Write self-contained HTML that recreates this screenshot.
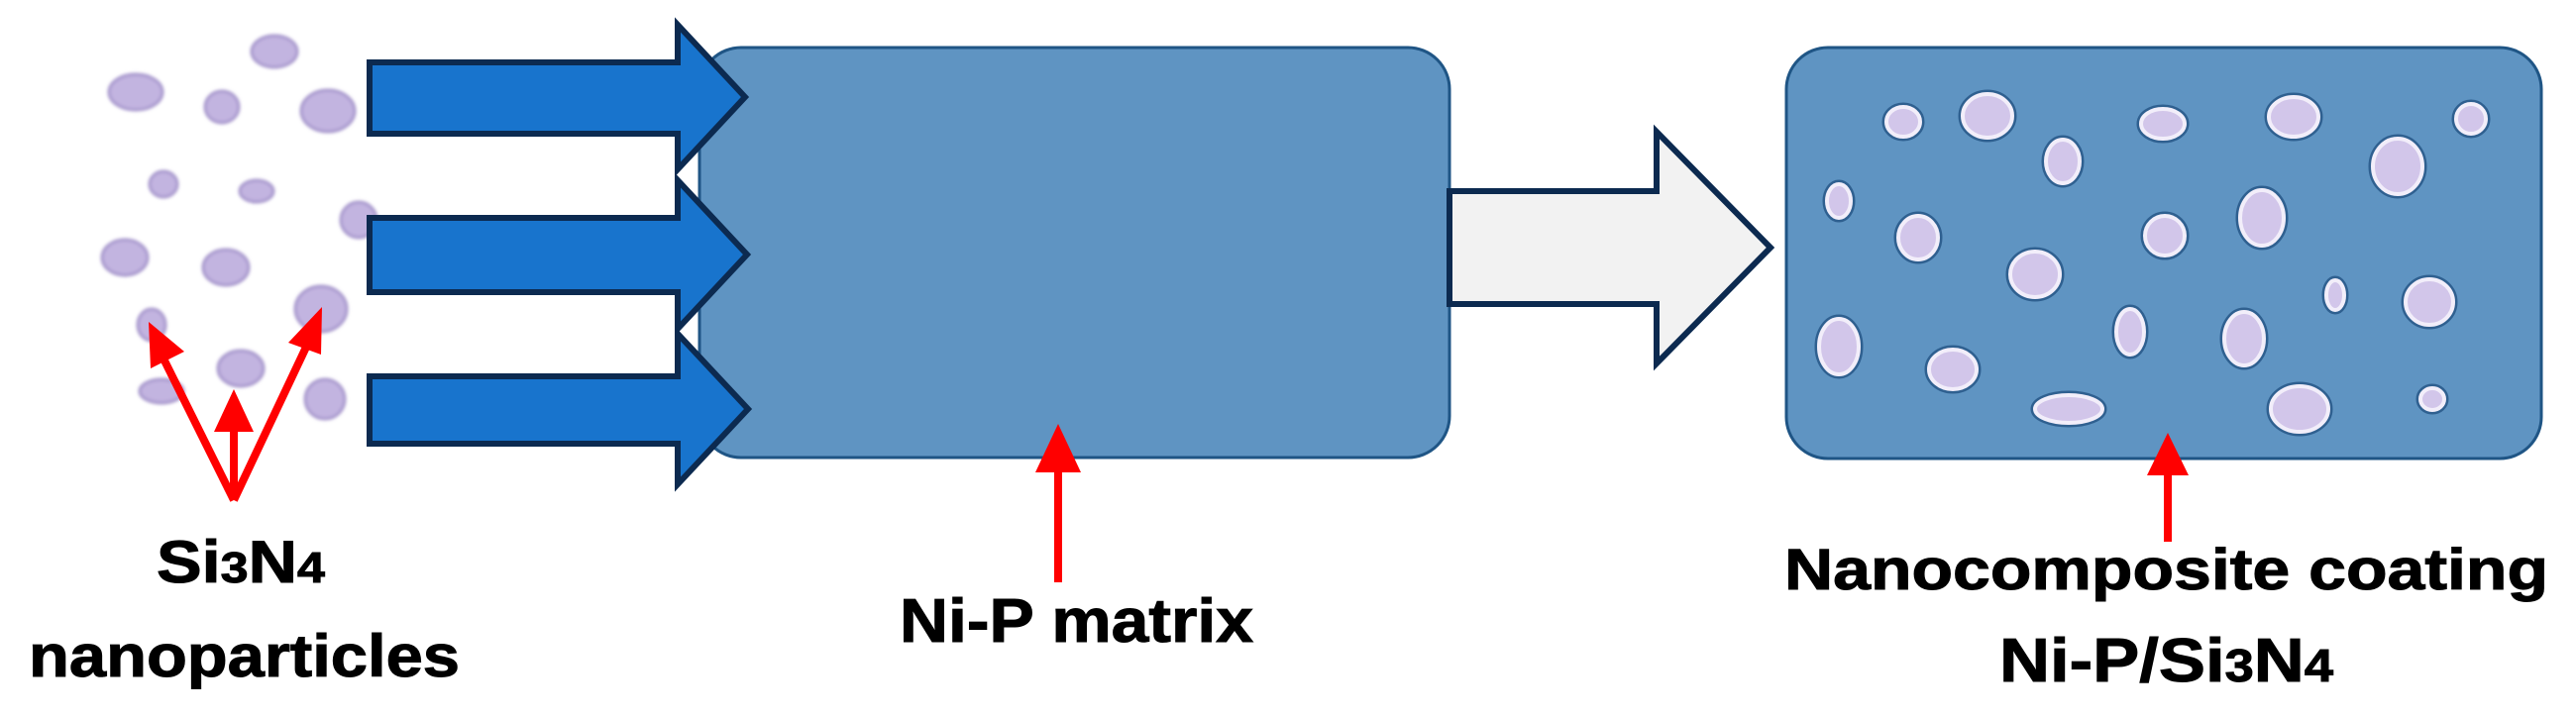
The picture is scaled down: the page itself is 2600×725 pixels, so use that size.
<!DOCTYPE html>
<html><head><meta charset="utf-8"><style>html,body{margin:0;padding:0;background:#fff}svg{display:block}</style></head>
<body>
<svg width="2600" height="725" viewBox="0 0 2600 725" xmlns="http://www.w3.org/2000/svg">
<defs>
<filter id="blur" x="-30%" y="-30%" width="160%" height="160%"><feGaussianBlur stdDeviation="1.6"/></filter>
<g id="inc">
<ellipse cx="1921" cy="123" rx="17" ry="15"/>
<ellipse cx="2006" cy="117" rx="25" ry="22"/>
<ellipse cx="2082" cy="163" rx="17" ry="22"/>
<ellipse cx="2183" cy="125" rx="22" ry="15"/>
<ellipse cx="2315" cy="118" rx="25" ry="20"/>
<ellipse cx="2494" cy="120" rx="15" ry="15"/>
<ellipse cx="2420" cy="168" rx="25" ry="28"/>
<ellipse cx="1856" cy="203" rx="12" ry="17"/>
<ellipse cx="1936" cy="240" rx="20" ry="22"/>
<ellipse cx="2185" cy="238" rx="20" ry="20"/>
<ellipse cx="2283" cy="220" rx="22" ry="28"/>
<ellipse cx="2054" cy="277" rx="25" ry="23"/>
<ellipse cx="2357" cy="298" rx="9" ry="15"/>
<ellipse cx="2452" cy="305" rx="24" ry="23"/>
<ellipse cx="1856" cy="350" rx="20" ry="28"/>
<ellipse cx="1971" cy="373" rx="24" ry="20"/>
<ellipse cx="2150" cy="335" rx="14" ry="23"/>
<ellipse cx="2265" cy="342" rx="20" ry="27"/>
<ellipse cx="2088" cy="413" rx="34" ry="14"/>
<ellipse cx="2321" cy="413" rx="29" ry="23"/>
<ellipse cx="2455" cy="403" rx="12" ry="11"/>
</g>
</defs>
<!-- left particles -->
<g fill="#c2b4e0" stroke="#a696cc" stroke-width="3" filter="url(#blur)">
<ellipse cx="277" cy="52" rx="23" ry="16"/>
<ellipse cx="137" cy="93" rx="27" ry="18"/>
<ellipse cx="224" cy="108" rx="17" ry="16"/>
<ellipse cx="331" cy="112" rx="27" ry="21"/>
<ellipse cx="165" cy="186" rx="14" ry="13"/>
<ellipse cx="259" cy="193" rx="17" ry="11"/>
<ellipse cx="362" cy="222" rx="18" ry="18"/>
<ellipse cx="126" cy="260" rx="23" ry="18"/>
<ellipse cx="228" cy="270" rx="23" ry="18"/>
<ellipse cx="324" cy="312" rx="26" ry="23"/>
<ellipse cx="153" cy="328" rx="14" ry="16"/>
<ellipse cx="243" cy="372" rx="23" ry="18"/>
<ellipse cx="163" cy="395" rx="22" ry="12"/>
<ellipse cx="328" cy="403" rx="20" ry="20"/>
</g>
<!-- box 1 -->
<rect x="706" y="48" width="757" height="414" rx="42" ry="42" fill="#5f94c2" stroke="#1f5585" stroke-width="3"/>
<!-- blue arrows -->
<g fill="#1874cd" stroke="#0c2a50" stroke-width="6" stroke-linejoin="miter">
<polygon points="373,63 684,63 684,25 752,98 684,171 684,135 373,135"/>
<polygon points="373,220 684,220 684,182 754,257 684,332 684,295 373,295"/>
<polygon points="373,380 684,380 684,337 755,413 684,489 684,448 373,448"/>
</g>
<!-- gray arrow -->
<polygon points="1463,193 1672,193 1672,133 1787,250 1672,367 1672,307 1463,307" fill="#f2f2f2" stroke="#0c2a50" stroke-width="6"/>
<!-- box 2 -->
<rect x="1803" y="48" width="762" height="415" rx="42" ry="42" fill="#5f94c2" stroke="#1f5585" stroke-width="3"/>
<use href="#inc" fill="none" stroke="#2f6090" stroke-width="9"/>
<use href="#inc" fill="#d2c6ea" stroke="#f2eefa" stroke-width="4"/>
<!-- red arrows -->
<g stroke="#ff0000" stroke-width="8" fill="none">
<line x1="236" y1="505" x2="162" y2="356"/>
<line x1="236" y1="505" x2="313" y2="342"/>
<line x1="236" y1="505" x2="236" y2="420"/>
<line x1="1068" y1="588" x2="1068" y2="470"/>
<line x1="2188" y1="547" x2="2188" y2="475"/>
</g>
<g fill="#ff0000">
<polygon points="150,325 186,355 152,372"/>
<polygon points="325,310 324,358 291,346"/>
<polygon points="236,393 256,436 216,436"/>
<polygon points="1068,428 1091,477 1045,477"/>
<polygon points="2188,437 2209,480 2167,480"/>
</g>
<!-- text -->
<g font-family="'Liberation Sans', Arial, sans-serif" font-weight="bold" fill="#000" stroke="#000" stroke-width="1">
<text x="158" y="588" font-size="60" textLength="170" lengthAdjust="spacingAndGlyphs">Si<tspan font-size="44">3</tspan>N<tspan font-size="44">4</tspan></text>
<text x="29" y="683" font-size="60" textLength="435" lengthAdjust="spacingAndGlyphs">nanoparticles</text>
<text x="908" y="648" font-size="62" textLength="357" lengthAdjust="spacingAndGlyphs">Ni-P matrix</text>
<text x="1801" y="595" font-size="58" textLength="771" lengthAdjust="spacingAndGlyphs">Nanocomposite coating</text>
<text x="2018" y="688" font-size="62" textLength="337" lengthAdjust="spacingAndGlyphs">Ni-P/Si<tspan font-size="46">3</tspan>N<tspan font-size="46">4</tspan></text>
</g>
</svg>
</body></html>
